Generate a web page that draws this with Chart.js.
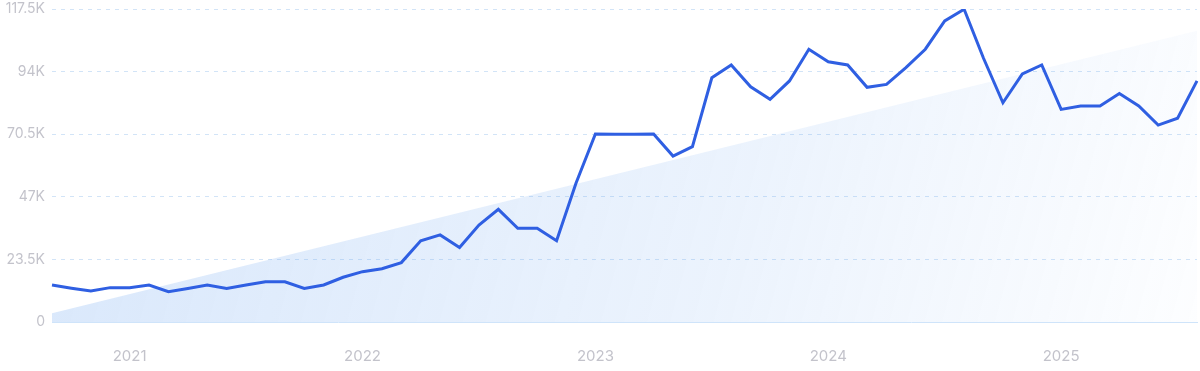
<!DOCTYPE html>
<html>
<head>
<meta charset="utf-8">
<script src="https://cdn.jsdelivr.net/npm/chart.js@4"></script>
<style>
  html, body { margin: 0; padding: 0; background: #fff; }
  #wrap { width: 1200px; height: 371px; }
</style>
</head>
<body>
<div id="wrap"><canvas id="trendChart"></canvas></div>
<script>
// monthly points, Sep 2020 .. Aug 2025
const months = [
    '2020-09', '2020-10', '2020-11', '2020-12',
    '2021-01', '2021-02', '2021-03', '2021-04', '2021-05', '2021-06', '2021-07', '2021-08', '2021-09', '2021-10', '2021-11', '2021-12',
    '2022-01', '2022-02', '2022-03', '2022-04', '2022-05', '2022-06', '2022-07', '2022-08', '2022-09', '2022-10', '2022-11', '2022-12',
    '2023-01', '2023-02', '2023-03', '2023-04', '2023-05', '2023-06', '2023-07', '2023-08', '2023-09', '2023-10', '2023-11', '2023-12',
    '2024-01', '2024-02', '2024-03', '2024-04', '2024-05', '2024-06', '2024-07', '2024-08', '2024-09', '2024-10', '2024-11', '2024-12',
    '2025-01', '2025-02', '2025-03', '2025-04', '2025-05', '2025-06', '2025-07', '2025-08'
];

const volume = [
    13900, 12700, 11600, 12900,
    12900, 13900, 11400, 12600, 13900, 12600, 13900, 15100, 15100, 12600, 13900, 16800,
    18900, 20000, 22300, 30500, 32700, 28000, 36400, 42300, 35200, 35200, 30500, 52100,
    70600, 70500, 70500, 70600, 62300, 65800, 91700, 96500, 88300, 83600, 90500, 102400,
    97700, 96500, 88100, 89200, 95500, 102400, 113000, 117400, 99000, 82300, 93100, 96500,
    79800, 81100, 81100, 85800, 81100, 73900, 76500, 90500
];

// straight trend line: start and end values only
const trendStart = 3300;
const trendEnd = 109300;

const yTicks = [0, 23500, 47000, 70500, 94000, 117500];

function fmtK(v) {
    if (v === 0) return '0';
    return (v / 1000) + 'K';
}

const ctx = document.getElementById('trendChart').getContext('2d');
new Chart(ctx, {
    type: 'line',
    data: {
        labels: months,
        datasets: [
            {
                label: 'Searches',
                data: volume,
                borderColor: '#2f5fe2',
                borderWidth: 3,
                pointRadius: 0,
                tension: 0,
                fill: false,
                order: 0
            },
            {
                label: 'Trend',
                data: [
                    { x: months[0], y: trendStart },
                    { x: months[months.length - 1], y: trendEnd }
                ],
                borderWidth: 0,
                borderColor: 'rgba(0,0,0,0)',
                pointRadius: 0,
                fill: 'origin',
                order: 1,
                backgroundColor: (c) => {
                    const area = c.chart.chartArea;
                    if (!area) return 'rgba(100,160,240,0.2)';
                    const g = c.chart.ctx.createLinearGradient(area.left, area.top, area.right, area.bottom);
                    g.addColorStop(0, 'rgba(100,160,240,0.25)');
                    g.addColorStop(0.6, 'rgba(100,160,240,0.125)');
                    g.addColorStop(1, 'rgba(100,160,240,0.015)');
                    return g;
                }
            }
        ]
    },
    options: {
        responsive: true,
        maintainAspectRatio: false,
        animation: false,
        layout: { padding: { top: 9, right: 3, left: 0, bottom: 0 } },
        plugins: {
            legend: { display: false },
            tooltip: { enabled: false }
        },
        scales: {
            x: {
                grid: { display: false },
                border: { display: true, color: '#cfe4fa', width: 1 },
                ticks: {
                    autoSkip: false,
                    maxRotation: 0,
                    padding: 17,
                    color: '#c3c3cb',
                    font: { family: 'Inter', size: 15 },
                    callback: function (val, idx) {
                        const lab = months[idx];
                        return lab.endsWith('-01') ? lab.slice(0, 4) : '';
                    }
                },
                afterFit: (scale) => {
                    scale.height = 49;
                    scale.paddingLeft = 0;
                    scale.paddingRight = 0;
                }
            },
            y: {
                min: 0,
                max: 117500,
                afterBuildTicks: (scale) => {
                    scale.ticks = yTicks.map(v => ({ value: v }));
                },
                grid: {
                    color: (c) => c.tick && c.tick.value === 0 ? 'rgba(0,0,0,0)' : '#d2e4f7',
                    drawTicks: false,
                    lineWidth: 1,
                    borderDash: [4, 5]
                },
                border: { display: false, dash: [4, 5] },
                ticks: {
                    padding: 7,
                    color: '#c3c3cb',
                    font: { family: 'Inter', size: 14 },
                    callback: (v) => fmtK(v)
                },
                afterFit: (scale) => {
                    scale.width = 52;
                    scale.paddingTop = 0;
                    scale.paddingBottom = 0;
                }
            }
        }
    }
});
</script>
</body>
</html>
